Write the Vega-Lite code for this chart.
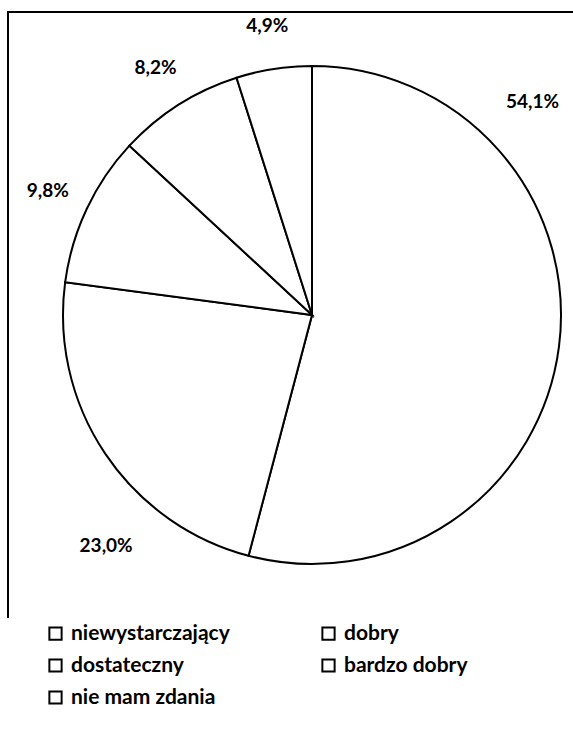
{
  "$schema": "https://vega.github.io/schema/vega-lite/v6.json",
  "width": 608,
  "height": 606,
  "padding": {"left": 8, "top": 12, "right": 0, "bottom": 122},
  "autosize": {"type": "none"},
  "background": "white",
  "view": {"stroke": "black", "strokeWidth": 2, "strokeDash": [1214, 608, 606], "fill": "white"},
  "config": {
    "font": "Lato"
  },
  "data": {
    "values": [
      {"ocena": "niewystarczający", "procent": 54.1, "etykieta": "54,1%", "nr": 1},
      {"ocena": "dostateczny", "procent": 23.0, "etykieta": "23,0%", "nr": 2},
      {"ocena": "nie mam zdania", "procent": 9.8, "etykieta": "9,8%", "nr": 3},
      {"ocena": "dobry", "procent": 8.2, "etykieta": "8,2%", "nr": 4},
      {"ocena": "bardzo dobry", "procent": 4.9, "etykieta": "4,9%", "nr": 5}
    ]
  },
  "encoding": {
    "theta": {"field": "procent", "type": "quantitative", "stack": true},
    "order": {"field": "nr", "type": "quantitative"}
  },
  "layer": [
    {
      "mark": {"type": "arc", "outerRadius": 249, "stroke": "black", "strokeWidth": 2},
      "encoding": {
        "color": {
          "field": "ocena",
          "type": "nominal",
          "scale": {
            "domain": ["niewystarczający", "dostateczny", "nie mam zdania", "dobry", "bardzo dobry"],
            "range": ["white", "white", "white", "white", "white"]
          },
          "legend": {
            "title": null,
            "orient": "none",
            "legendX": 37,
            "legendY": 611,
            "columns": 2,
            "symbolType": "square",
            "symbolSize": 150,
            "symbolStrokeColor": "black",
            "symbolStrokeWidth": 2,
            "symbolFillColor": "white",
            "labelFontSize": 21,
            "labelFont": "Lato",
            "labelFontWeight": "bold",
            "labelColor": "black",
            "labelOffset": 5,
            "labelLimit": 400,
            "columnPadding": 88,
            "rowPadding": 10
          }
        }
      }
    },
    {
      "mark": {"type": "text", "radius": 292, "fontSize": 19, "fontWeight": "bold", "font": "Lato", "color": "black", "align": "center", "baseline": "middle"},
      "encoding": {
        "text": {"condition": {"test": "datum.nr >= 3", "field": "etykieta"}, "value": ""}
      }
    },
    {
      "mark": {"type": "text", "radius": 290, "dx": -67, "dy": -250, "fontSize": 19, "fontWeight": "bold", "font": "Lato", "color": "black", "align": "center", "baseline": "middle"},
      "encoding": {
        "text": {"condition": {"test": "datum.nr == 1", "field": "etykieta"}, "value": ""}
      }
    },
    {
      "mark": {"type": "text", "radius": 290, "dx": 35, "dy": 70, "fontSize": 19, "fontWeight": "bold", "font": "Lato", "color": "black", "align": "center", "baseline": "middle"},
      "encoding": {
        "text": {"condition": {"test": "datum.nr == 2", "field": "etykieta"}, "value": ""}
      }
    }
  ]
}
